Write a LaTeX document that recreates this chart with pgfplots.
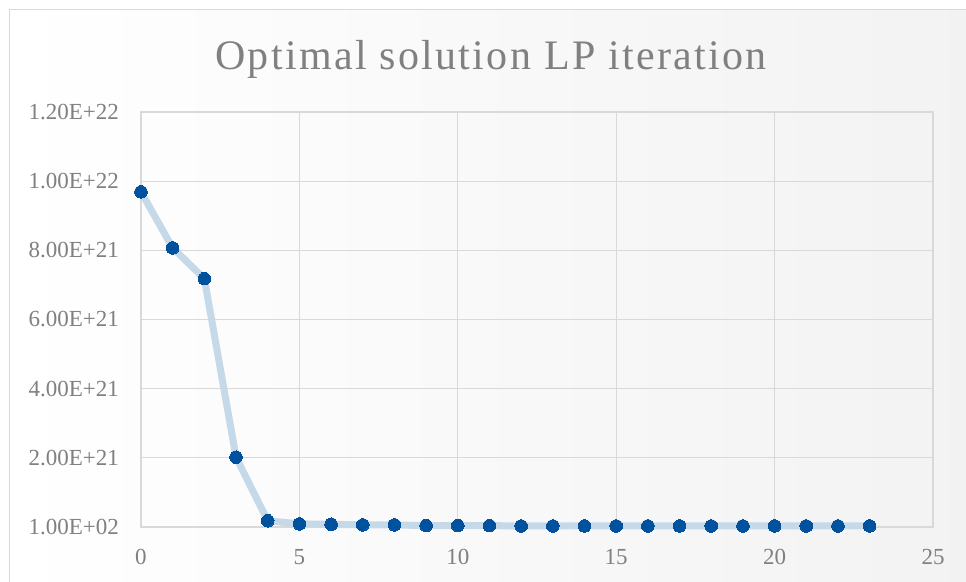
\documentclass[border=0pt]{standalone}
\usepackage{pgfplots}
\pgfplotsset{compat=1.18}
\usepackage{fontspec}
\setmainfont{Liberation Serif}
\definecolor{gridc}{HTML}{D9D9D9}
\definecolor{txtc}{HTML}{808080}
\definecolor{linec}{HTML}{C6D9E9}
\definecolor{markc}{HTML}{00519E}
\begin{document}
\begin{tikzpicture}[x=1pt,y=1pt]
\useasboundingbox (0,0) rectangle (966,581);
\shade[shading angle=135, left color=white, right color=gray!10] (9,-1) rectangle (967,571);
\draw[gridc, line width=1pt] (9,-1) -- (9,571) -- (967,571);
\node[txtc, font={\fontsize{42}{48}\selectfont\addfontfeature{LetterSpace=5.5}}, anchor=base, inner sep=0pt] at (491,511) {Optimal solution LP iteration};
\begin{axis}[
  at={(141pt,54pt)}, anchor=south west,
  scale only axis, width=792pt, height=415pt,
  xmin=0, xmax=25, ymin=0, ymax=1.2e22,
  xtick={0,5,...,25},
  ytick={0,2e21,4e21,6e21,8e21,1e22,1.2e22},
  yticklabels={1.00E+02,2.00E+21,4.00E+21,6.00E+21,8.00E+21,1.00E+22,1.20E+22},
  scaled ticks=false,
  /pgf/number format/assume math mode=true,
  tick label style={font=\fontsize{23}{27}\selectfont, txtc, inner sep=0pt},
  xticklabel style={anchor=north, yshift=-22pt},
  yticklabel style={anchor=east, xshift=-22pt},
  major tick length=0pt,
  grid=major,
  major grid style={gridc, line width=1.3pt},
  axis line style={gridc, line width=1.3pt},
  clip=false,
]
\addplot[linec, line width=7pt, line join=round, line cap=round] table {
x y
0 9.69e21
1 8.07e21
2 7.18e21
3 2.02e21
4 0.18e21
5 0.09e21
6 0.08e21
7 0.06e21
8 0.06e21
9 0.04e21
10 0.04e21
11 0.04e21
12 0.03e21
13 0.03e21
14 0.03e21
15 0.03e21
16 0.03e21
17 0.03e21
18 0.03e21
19 0.03e21
20 0.03e21
21 0.03e21
22 0.03e21
23 0.03e21
};
\addplot[only marks, mark=*, mark size=6.3pt, mark options={fill=markc, draw=markc, line width=0pt}] table {
x y
0 9.69e21
1 8.07e21
2 7.18e21
3 2.02e21
4 0.18e21
5 0.09e21
6 0.08e21
7 0.06e21
8 0.06e21
9 0.04e21
10 0.04e21
11 0.04e21
12 0.03e21
13 0.03e21
14 0.03e21
15 0.03e21
16 0.03e21
17 0.03e21
18 0.03e21
19 0.03e21
20 0.03e21
21 0.03e21
22 0.03e21
23 0.03e21
};
\end{axis}
\end{tikzpicture}
\end{document}
